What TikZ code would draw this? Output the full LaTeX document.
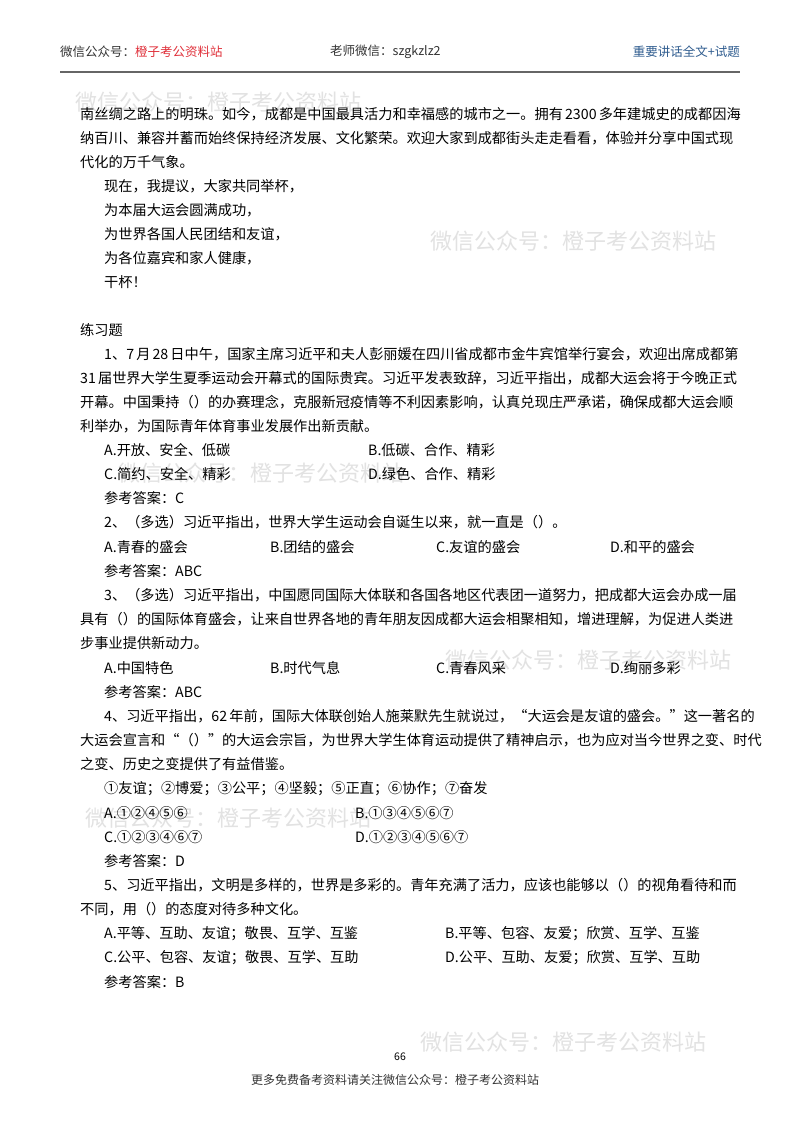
\documentclass[tikz,border=0pt]{standalone}
\usepackage{fontspec}
\setmainfont{Noto Sans CJK SC}
\XeTeXlinebreaklocale "zh"
\XeTeXlinebreakskip=0pt plus 2pt
\definecolor{hdr}{HTML}{333333}
\definecolor{hred}{HTML}{E0303A}
\definecolor{hblue}{HTML}{2F5C8F}
\definecolor{wm}{HTML}{E2E2E2}
\newcommand\myfl[3]{\node[body] (#1) at (80,#2) {\makebox[636pt][s]{#3}};}
\newcommand\mytl[4]{\node[body] (#1) at (#2,#3) {#4};}
\begin{document}
\begin{tikzpicture}[x=1pt,y=-1pt,
  body/.style={anchor=west,inner sep=0pt,font=\fontsize{14.2}{16}\selectfont,text=black},
  wmk/.style={anchor=west,inner sep=0pt,font=\fontsize{22}{24}\selectfont,text=wm},
  hd/.style={inner sep=0pt,font=\fontsize{12.5}{14}\selectfont}]
\fill[white] (0,0) rectangle (800,1132);
\useasboundingbox (0,0) rectangle (800,1132);
% watermarks
\node[wmk] (w0) at (75,102) {微信公众号：橙子考公资料站};
\node[wmk] (w1) at (430,241) {微信公众号：橙子考公资料站};
\node[wmk] (w2) at (118,473) {微信公众号：橙子考公资料站};
\node[wmk] (w3) at (445,660) {微信公众号：橙子考公资料站};
\node[wmk] (w4) at (85,818) {微信公众号：橙子考公资料站};
\node[wmk] (w5) at (420,1042) {微信公众号：橙子考公资料站};
% header
\node[hd,anchor=west,text=hdr] (h1) at (60,52) {微信公众号：\textcolor{hred}{橙子考公资料站}};
\node[hd,anchor=west,text=hdr] (h2) at (330,52) {老师微信：szgkzlz2};
\node[hd,anchor=east,text=hblue] (h3) at (740,52) {重要讲话全文+试题};
\draw[gray!80!black,line width=1.4pt] (60,72) coordinate (r1) -- (740,72) coordinate (r2);
% body
\myfl{l1}{114}{南丝绸之路上的明珠。如今，成都是中国最具活力和幸福感的城市之一。拥有 2300 多年建城史的成都因海}
\myfl{l2}{138}{纳百川、兼容并蓄而始终保持经济发展、文化繁荣。欢迎大家到成都街头走走看看，体验并分享中国式现}
\mytl{l3}{80}{162}{代化的万千气象。}
\mytl{l4}{104}{186}{现在，我提议，大家共同举杯，}
\mytl{l5}{104}{210}{为本届大运会圆满成功，}
\mytl{l6}{104}{234}{为世界各国人民团结和友谊，}
\mytl{l7}{104}{258}{为各位嘉宾和家人健康，}
\mytl{l8}{104}{282}{干杯！}
\mytl{p0}{80}{330}{练习题}
\node[body] (q1a) at (104,354) {\makebox[612pt][s]{1、7 月 28 日中午，国家主席习近平和夫人彭丽媛在四川省成都市金牛宾馆举行宴会，欢迎出席成都第}};
\myfl{q1b}{378}{31 届世界大学生夏季运动会开幕式的国际贵宾。习近平发表致辞，习近平指出，成都大运会将于今晚正式}
\myfl{q1c}{402}{开幕。中国秉持（）的办赛理念，克服新冠疫情等不利因素影响，认真兑现庄严承诺，确保成都大运会顺}
\mytl{q1d}{80}{426}{利举办，为国际青年体育事业发展作出新贡献。}
\mytl{o1a}{104}{450}{A.开放、安全、低碳}
\mytl{o1b}{368}{450}{B.低碳、合作、精彩}
\mytl{o1c}{104}{474}{C.简约、安全、精彩}
\mytl{o1d}{368}{474}{D.绿色、合作、精彩}
\mytl{a1}{104}{498}{参考答案：C}
\mytl{q2}{104}{522}{2、（多选）习近平指出，世界大学生运动会自诞生以来，就一直是（）。}
\mytl{o2a}{104}{547}{A.青春的盛会}
\mytl{o2b}{270}{547}{B.团结的盛会}
\mytl{o2c}{436}{547}{C.友谊的盛会}
\mytl{o2d}{610}{547}{D.和平的盛会}
\mytl{a2}{104}{571}{参考答案：ABC}
\node[body] (q3a) at (104,595) {\makebox[612pt][s]{3、（多选）习近平指出，中国愿同国际大体联和各国各地区代表团一道努力，把成都大运会办成一届}};
\myfl{q3b}{619}{具有（）的国际体育盛会，让来自世界各地的青年朋友因成都大运会相聚相知，增进理解，为促进人类进}
\mytl{q3c}{80}{643}{步事业提供新动力。}
\mytl{o3a}{104}{668}{A.中国特色}
\mytl{o3b}{270}{668}{B.时代气息}
\mytl{o3c}{436}{668}{C.青春风采}
\mytl{o3d}{610}{668}{D.绚丽多彩}
\mytl{a3}{104}{692}{参考答案：ABC}
\node[body] (q4a) at (104,716) {\makebox[612pt][s]{4、习近平指出，62 年前，国际大体联创始人施莱默先生就说过，“大运会是友谊的盛会。”这一著名的}};
\myfl{q4b}{740}{大运会宣言和“（）”的大运会宗旨，为世界大学生体育运动提供了精神启示，也为应对当今世界之变、时代}
\mytl{q4c}{80}{764}{之变、历史之变提供了有益借鉴。}
\mytl{q4d}{104}{789}{①友谊；②博爱；③公平；④坚毅；⑤正直；⑥协作；⑦奋发}
\mytl{o4a}{104}{813}{A.①②④⑤⑥}
\mytl{o4b}{355}{813}{B.①③④⑤⑥⑦}
\mytl{o4c}{104}{837}{C.①②③④⑥⑦}
\mytl{o4d}{355}{837}{D.①②③④⑤⑥⑦}
\mytl{a4}{104}{861}{参考答案：D}
\node[body] (q5a) at (104,885) {\makebox[612pt][s]{5、习近平指出，文明是多样的，世界是多彩的。青年充满了活力，应该也能够以（）的视角看待和而}};
\mytl{q5b}{80}{909}{不同，用（）的态度对待多种文化。}
\mytl{o5a}{104}{934}{A.平等、互助、友谊；敬畏、互学、互鉴}
\mytl{o5b}{445}{934}{B.平等、包容、友爱；欣赏、互学、互鉴}
\mytl{o5c}{104}{958}{C.公平、包容、友谊；敬畏、互学、互助}
\mytl{o5d}{445}{958}{D.公平、互助、友爱；欣赏、互学、互助}
\mytl{a5}{104}{982}{参考答案：B}
% footer
\node[inner sep=0pt,font=\fontsize{10.5}{12}\selectfont] (pg) at (400,1057) {66};
\node[hd,anchor=west,text=hdr,font=\fontsize{12}{14}\selectfont] (ft) at (251,1080) {更多免费备考资料请关注微信公众号：橙子考公资料站};
\end{tikzpicture}
\end{document}
